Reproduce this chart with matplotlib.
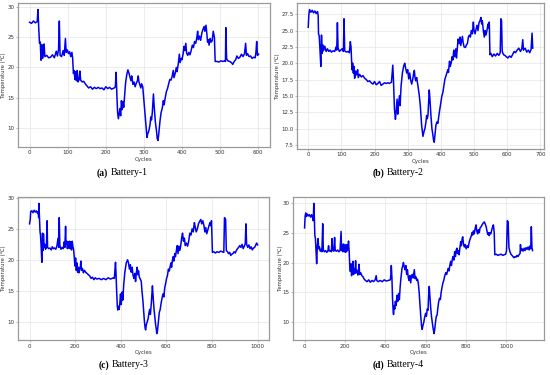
import numpy as np
import matplotlib.pyplot as plt

# (cycle, temperature)
battery1 = [(0,27.5),(5,27.3),(10,27.7),(15,27.4),(20,27.6),(22,29.6),(24,26.5),(26,24.0),(28,24.2),(30,21.2),(32,23.8),(34,21.5),(36,22.3),(38,23.9),(40,21.8),(45,22.0),(50,21.6),(55,21.7),(60,22.1),(65,21.6),(70,22.7),(73,21.9),(76,23.0),(78,27.7),(80,22.0),(84,21.8),(88,22.8),(91,22.0),(94,24.8),(96,22.5),(99,22.9),(102,22.3),(105,22.6),(108,21.8),(111,22.5),(113,21.5),(115,19.0),(117,19.5),(119,18.0),(121,19.3),(123,17.8),(125,19.5),(127,17.6),(130,18.0),(132,19.4),(134,17.9),(138,17.6),(142,17.7),(146,17.3),(150,17.0),(155,16.6),(160,16.8),(165,16.4),(170,16.7),(175,16.5),(180,16.7),(185,16.5),(190,16.6),(195,16.3),(200,16.8),(205,16.5),(210,16.7),(215,16.4),(222,16.6),(225,16.8),(227,19.2),(229,15.5),(231,12.5),(233,11.5),(235,12.3),(237,13.2),(239,12.0),(241,14.5),(243,13.0),(245,14.3),(247,13.4),(249,15.0),(252,17.5),(255,18.8),(258,19.6),(261,19.0),(264,18.3),(266,17.8),(268,18.6),(271,17.2),(274,17.6),(277,16.8),(280,17.4),(283,17.8),(285,18.6),(287,17.6),(290,17.0),(292,16.6),(294,17.3),(297,16.8),(300,14.5),(303,12.0),(306,9.8),(308,8.4),(310,9.0),(313,9.5),(316,10.5),(318,11.8),(320,11.3),(322,12.5),(325,15.6),(327,13.5),(330,11.0),(333,9.5),(335,8.2),(337,7.9),(339,9.0),(342,11.0),(345,12.5),(348,13.2),(351,14.5),(353,13.8),(356,15.0),(359,16.0),(362,16.5),(365,17.3),(368,18.0),(371,17.9),(374,18.5),(377,19.5),(379,18.3),(382,19.0),(385,20.0),(387,19.3),(390,20.5),(393,22.2),(395,20.8),(398,21.5),(400,21.3),(403,22.3),(405,23.5),(407,22.8),(410,24.0),(412,22.4),(415,22.0),(418,22.5),(421,22.1),(424,22.8),(427,23.7),(430,23.3),(433,24.3),(436,24.0),(439,25.0),(441,26.0),(443,24.6),(446,25.2),(449,24.5),(452,25.7),(455,26.3),(458,26.8),(460,26.0),(463,27.0),(465,25.7),(467,24.2),(469,24.6),(471,23.7),(474,24.8),(476,24.2),(479,24.4),(482,26.0),(485,25.0),(487,21.0),(492,21.0),(497,20.9),(502,21.1),(507,21.0),(512,21.1),(514,21.0),(515,26.6),(517,21.5),(520,21.1),(525,21.0),(530,20.8),(533,20.5),(537,21.0),(541,21.3),(544,21.9),(548,21.5),(552,21.7),(556,22.2),(560,21.8),(564,22.3),(567,24.0),(569,22.0),(572,22.3),(576,21.8),(580,21.9),(584,21.5),(588,21.7),(592,21.6),(594,22.5),(596,24.3),(598,22.0),(601,22.2)]

battery2 = [(0,25.5),(2,27.5),(4,28.2),(8,27.8),(12,28.1),(16,27.7),(20,28.0),(24,27.6),(28,27.9),(30,27.3),(31,24.5),(33,24.2),(35,22.5),(38,19.5),(40,24.3),(42,21.5),(44,22.8),(46,21.9),(50,22.6),(54,21.8),(58,22.2),(62,21.8),(66,22.0),(70,21.7),(75,21.9),(80,21.8),(84,22.5),(86,22.0),(88,26.2),(90,22.3),(94,21.8),(98,22.0),(102,22.2),(106,21.8),(108,26.8),(110,21.9),(115,21.7),(120,21.8),(124,21.6),(127,23.3),(129,22.5),(132,19.0),(134,20.0),(136,18.5),(138,19.5),(140,17.7),(143,18.8),(146,18.2),(149,19.0),(151,17.8),(155,18.3),(160,17.9),(165,18.1),(170,17.7),(175,17.5),(180,17.2),(185,17.3),(190,17.0),(195,16.8),(200,17.2),(205,16.7),(210,16.9),(215,17.2),(220,16.6),(225,16.8),(230,17.0),(235,16.9),(240,17.0),(245,16.9),(251,17.1),(255,19.7),(257,17.5),(260,13.0),(263,11.4),(265,12.5),(268,14.5),(270,12.2),(272,13.5),(275,15.0),(277,13.5),(280,16.5),(284,18.5),(288,19.6),(291,20.0),(294,19.2),(297,18.5),(300,19.0),(303,17.6),(306,18.5),(309,17.4),(312,16.8),(315,17.5),(318,18.5),(320,18.9),(322,17.8),(324,17.3),(327,17.8),(331,16.5),(335,15.0),(338,13.5),(342,10.5),(346,8.8),(349,9.5),(352,10.0),(355,11.0),(357,12.0),(359,11.5),(361,12.0),(363,14.0),(365,15.9),(367,14.5),(370,12.0),(373,10.0),(376,9.0),(378,8.2),(380,7.9),(382,9.0),(385,10.5),(388,11.0),(391,10.8),(394,12.0),(397,13.0),(400,14.0),(403,15.0),(406,15.5),(409,16.5),(412,17.5),(415,18.0),(418,18.5),(421,19.0),(423,18.6),(426,20.3),(428,19.5),(431,20.0),(434,21.0),(436,20.5),(439,22.0),(441,21.0),(445,22.2),(447,20.8),(450,22.5),(452,23.7),(455,23.0),(458,24.0),(460,22.7),(465,24.1),(467,23.2),(470,22.5),(474,22.4),(477,22.8),(480,23.0),(483,24.0),(486,24.3),(489,24.0),(492,25.0),(495,24.5),(498,26.3),(500,25.0),(503,24.5),(506,25.2),(509,25.8),(512,25.0),(515,26.2),(518,26.5),(521,27.0),(523,26.0),(525,26.5),(528,25.0),(531,24.0),(533,25.0),(536,24.3),(539,25.0),(542,26.0),(544,25.4),(546,26.3),(548,21.3),(551,21.5),(555,21.0),(560,21.4),(565,21.1),(570,21.5),(575,21.2),(579,21.6),(581,26.8),(583,26.5),(585,21.8),(589,21.3),(593,21.2),(597,21.0),(602,20.8),(607,21.1),(612,20.9),(617,21.4),(621,21.8),(625,21.6),(630,22.0),(635,22.3),(640,21.8),(644,22.2),(647,23.6),(649,22.0),(654,22.3),(659,21.7),(664,22.0),(668,21.6),(672,22.1),(675,24.6),(677,22.3)]

battery3 = [(0,25.8),(3,26.5),(5,27.8),(10,27.9),(15,27.6),(20,28.0),(25,27.7),(30,27.9),(35,27.5),(38,27.8),(40,26.8),(41,29.1),(44,26.5),(46,24.5),(48,24.0),(51,22.0),(54,19.6),(57,24.3),(59,21.5),(61,24.2),(64,22.0),(67,22.5),(70,21.7),(74,22.0),(77,26.3),(79,22.0),(84,21.8),(90,21.9),(95,21.6),(100,22.1),(105,21.8),(110,21.9),(115,21.7),(120,22.2),(125,23.5),(128,22.0),(130,26.8),(133,22.3),(138,21.7),(143,22.0),(148,21.8),(152,22.9),(155,22.0),(158,25.4),(160,22.5),(163,23.0),(166,21.8),(169,22.9),(172,21.9),(175,23.0),(178,21.8),(181,22.9),(184,21.6),(187,23.0),(190,22.2),(193,21.7),(196,20.5),(199,19.0),(202,20.3),(205,18.3),(208,19.5),(211,18.0),(214,18.8),(217,17.9),(220,18.5),(223,19.0),(225,19.8),(228,18.3),(232,18.6),(236,17.9),(241,18.3),(246,18.0),(252,17.8),(258,17.6),(264,17.4),(270,17.0),(276,17.2),(282,16.8),(288,17.1),(295,16.9),(305,17.0),(315,16.8),(325,17.0),(335,16.8),(345,17.1),(355,16.9),(362,17.0),(368,17.1),(372,17.0),(375,18.5),(377,19.6),(379,18.0),(382,15.0),(385,12.5),(387,11.9),(390,12.5),(393,12.0),(396,13.0),(399,14.5),(402,12.8),(406,14.8),(409,13.5),(413,16.0),(418,18.0),(424,19.5),(430,20.0),(434,19.5),(438,18.5),(442,19.2),(446,18.0),(450,18.8),(454,17.5),(458,17.0),(462,17.8),(465,16.5),(468,17.8),(472,18.8),(475,17.6),(478,18.2),(481,17.3),(484,17.0),(487,16.8),(490,16.5),(493,15.0),(497,13.5),(501,11.5),(504,10.0),(507,9.0),(509,8.7),(512,9.5),(516,10.0),(520,10.5),(524,11.5),(527,12.0),(530,11.2),(534,13.0),(539,15.8),(542,14.0),(546,12.0),(550,10.5),(553,9.5),(556,8.8),(558,8.1),(561,8.5),(565,10.0),(569,11.5),(573,12.0),(577,13.0),(581,13.8),(585,14.5),(589,14.0),(593,15.5),(597,16.2),(601,17.0),(605,17.5),(609,18.5),(613,18.2),(617,19.0),(620,19.5),(623,18.8),(627,20.0),(630,20.5),(633,19.8),(637,21.0),(640,20.5),(644,21.5),(648,22.3),(651,21.0),(655,22.2),(658,21.5),(662,22.0),(667,23.5),(671,24.3),(675,23.0),(679,23.5),(683,22.3),(688,22.7),(693,22.2),(698,23.0),(703,24.3),(708,24.0),(713,25.0),(718,24.5),(723,26.0),(727,25.2),(731,24.5),(736,25.0),(741,25.8),(746,26.2),(751,26.5),(755,25.8),(760,26.3),(765,25.5),(769,24.5),(773,25.2),(777,24.2),(781,24.7),(786,25.3),(791,26.0),(794,25.5),(798,26.3),(802,21.2),(808,21.3),(815,21.1),(822,21.3),(830,21.2),(838,21.4),(845,21.3),(852,21.2),(855,26.8),(860,26.5),(863,21.5),(868,21.3),(873,21.0),(878,21.2),(882,20.7),(887,20.9),(892,21.0),(897,21.3),(902,21.1),(907,21.5),(912,21.8),(917,22.0),(922,22.3),(927,22.0),(932,22.5),(937,21.8),(942,22.2),(946,22.6),(949,25.8),(952,22.5),(957,22.0),(962,22.4),(967,21.8),(972,22.1),(977,21.6),(982,21.9),(987,22.0),(992,22.4),(996,22.7),(1000,22.4)]

battery4 = [(0,25.8),(3,27.8),(6,28.3),(10,27.7),(15,28.1),(20,27.8),(25,28.0),(30,27.6),(35,28.0),(40,27.5),(43,27.0),(46,29.9),(49,27.0),(51,24.5),(54,24.0),(57,22.0),(60,19.8),(63,22.5),(67,24.0),(70,22.3),(74,22.6),(78,21.9),(82,22.2),(86,21.8),(90,26.5),(93,22.1),(98,21.8),(104,22.0),(110,21.7),(116,22.0),(119,22.8),(122,21.9),(128,22.0),(133,21.8),(136,24.0),(139,22.1),(145,21.9),(149,24.2),(152,22.0),(158,21.9),(164,22.1),(170,21.8),(176,22.0),(181,25.2),(184,22.0),(187,23.0),(190,21.8),(193,23.1),(196,22.0),(199,23.0),(202,21.7),(205,22.9),(208,21.8),(211,23.0),(214,22.1),(218,23.6),(221,21.9),(224,19.5),(227,18.5),(230,19.8),(233,17.8),(237,18.8),(240,20.2),(243,18.0),(247,19.0),(250,18.2),(253,20.3),(256,18.3),(260,18.7),(264,17.9),(267,18.5),(270,19.7),(273,18.0),(278,18.3),(284,17.8),(290,17.6),(296,17.2),(302,17.0),(310,16.8),(318,17.1),(326,16.7),(334,17.0),(342,16.8),(350,17.1),(355,17.8),(358,17.0),(365,16.8),(375,17.0),(385,16.8),(395,17.1),(405,16.9),(415,17.0),(425,17.1),(428,18.0),(430,19.5),(433,17.5),(436,14.0),(439,12.0),(441,11.3),(444,12.8),(447,12.2),(450,13.5),(454,12.8),(458,14.5),(462,13.5),(466,14.8),(470,13.8),(474,16.0),(478,17.5),(483,19.0),(487,19.5),(490,20.0),(494,19.3),(498,18.8),(502,19.5),(506,18.0),(510,18.8),(514,17.5),(518,17.0),(522,17.8),(526,16.6),(530,17.8),(534,18.0),(538,17.4),(544,18.8),(548,17.3),(552,17.6),(556,17.0),(560,17.2),(564,16.5),(568,15.0),(572,13.0),(576,11.0),(580,9.3),(583,8.8),(587,9.5),(591,10.0),(595,10.8),(600,11.5),(604,11.0),(608,12.2),(612,12.0),(615,14.5),(618,16.0),(621,14.5),(625,12.5),(629,11.0),(633,10.0),(637,9.0),(640,8.4),(642,8.1),(645,8.8),(649,10.0),(653,11.0),(657,11.2),(661,12.5),(665,13.5),(669,14.0),(673,13.8),(677,15.0),(681,15.8),(685,16.5),(690,17.0),(695,17.8),(700,18.3),(704,18.0),(708,18.5),(712,19.0),(716,18.6),(720,19.5),(724,20.2),(728,19.5),(732,20.5),(736,21.0),(740,20.4),(744,21.8),(748,21.0),(751,22.0),(755,22.4),(758,21.5),(762,22.0),(766,21.3),(770,22.5),(774,23.5),(777,22.8),(781,24.0),(784,24.3),(788,23.0),(792,22.6),(796,23.0),(801,22.3),(806,22.8),(811,22.5),(816,23.4),(821,24.0),(826,24.4),(830,25.0),(833,24.6),(837,25.3),(841,24.8),(846,25.8),(850,26.3),(854,25.2),(858,24.8),(862,25.5),(866,25.0),(870,25.8),(875,26.0),(880,26.3),(885,26.6),(891,26.8),(896,26.4),(900,26.0),(904,25.3),(908,24.7),(912,25.0),(915,24.5),(919,25.0),(923,24.8),(928,25.5),(932,26.0),(936,26.3),(940,25.0),(943,21.3),(950,21.4),(958,21.2),(966,21.3),(974,21.4),(982,21.2),(990,21.3),(997,21.4),(1001,22.0),(1005,27.0),(1009,26.8),(1013,22.5),(1018,21.8),(1023,21.4),(1028,21.2),(1033,21.0),(1038,20.8),(1043,21.0),(1048,20.9),(1053,21.2),(1058,21.0),(1063,21.3),(1068,21.5),(1070,23.0),(1073,22.0),(1078,22.3),(1083,21.9),(1088,22.4),(1093,22.0),(1098,22.5),(1103,22.2),(1108,22.6),(1113,22.1),(1118,22.8),(1121,22.3),(1124,26.0),(1127,22.5),(1130,22.0)]

labels = ["a", "b", "c", "d"]
names = ["Battery-1", "Battery-2", "Battery-3", "Battery-4"]
series = [battery1, battery2, battery3, battery4]

# axes boxes in figure fractions [left, bottom, width, height]
boxes = [[0.033, 0.608, 0.458, 0.384],
         [0.540, 0.603, 0.449, 0.389],
         [0.033, 0.093, 0.456, 0.382],
         [0.533, 0.093, 0.456, 0.382]]
captions = [(0.249, 0.539), (0.751, 0.539), (0.251, 0.027), (0.751, 0.027)]
# where the y label sits, in axes fraction
ylab_x = [-0.05, -0.068, -0.05, -0.04]

fig = plt.figure(figsize=(5.5, 3.75), dpi=100)

for i in range(4):
    ax = fig.add_axes(boxes[i])
    data = np.array(series[i])
    ax.plot(data[:, 0], data[:, 1], color='#0000ee', lw=1.1)
    ax.grid(True, color='#e4e4e4', lw=0.5)
    ax.set_axisbelow(True)
    for sp in ax.spines.values():
        sp.set_color('#9a9a9a')
        sp.set_linewidth(0.9)
    ax.tick_params(labelsize=4, length=1.5, width=0.5, color='#9a9a9a', pad=1, labelcolor='#333333')
    ax.set_xlabel('Cycles', fontsize=4, labelpad=1, color='#333333')
    ax.set_ylabel('Temperature (℃)', fontsize=3.8, color='#333333')
    ax.yaxis.set_label_coords(ylab_x[i], 0.5)
    cx, cy = captions[i]
    fig.text(cx - 0.052, cy, '(' + labels[i] + ')', fontsize=7, fontweight='bold',
             family='Liberation Serif', ha='right', va='center')
    fig.text(cx - 0.048, cy, names[i], fontsize=7, family='Liberation Serif', ha='left', va='center')

fig.savefig('out.png', dpi=100)
